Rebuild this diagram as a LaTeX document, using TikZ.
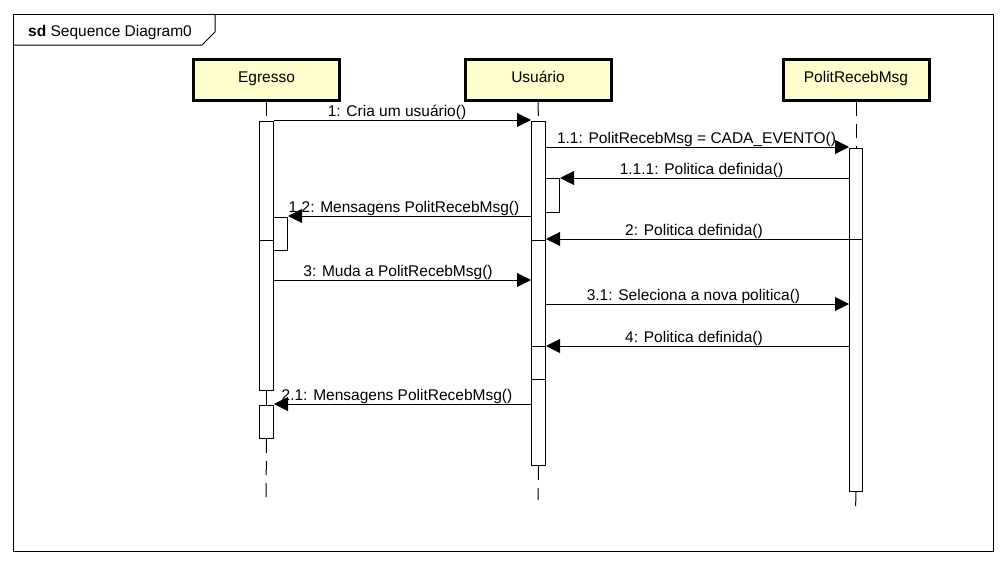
\documentclass[tikz,border=0pt]{standalone}
\usepackage{fontspec}
\setmainfont{Liberation Sans}
\usetikzlibrary{arrows.meta}
\definecolor{headfill}{RGB}{255,255,206}
\begin{document}
\begin{tikzpicture}[x=1pt,y=-1pt,
  every node/.style={font=\fontsize{15.5}{18}\selectfont, inner sep=0pt},
  head/.style={draw=black, line width=3pt, fill=headfill, minimum width=146pt, minimum height=41pt, text height=11pt, text depth=7pt},
  actbar/.style={draw=black, line width=1pt, fill=white, anchor=north west},
  life/.style={line width=1pt, dash pattern=on 14pt off 8pt},
  msg/.style={line width=1pt, -{Triangle[length=14pt,width=14pt]}},
  lbl/.style={anchor=base}
]
\useasboundingbox (0,0) rectangle (1006,565);
% frame
\draw[line width=1pt] (13,14) rectangle (993,551);
\draw[line width=1pt] (13,45) -- (202,45) -- (215,32) -- (215,14);
\node[anchor=base west] (title) at (28,36) {\textbf{sd} Sequence Diagram0};

% heads
\node[head] (egr) at (266.5,80) {Egresso};
\node[head] (usu) at (538,80) {Usuário};
\node[head] (pol) at (856,80) {PolitRecebMsg};

% activation bars
\node[actbar, minimum width=14pt, minimum height=119pt] (ea) at (259,121) {};
\node[actbar, minimum width=14pt, minimum height=150pt] (eb) at (259,240) {};
\node[actbar, minimum width=14pt, minimum height=33pt] (ec) at (273,217) {};
\node[actbar, minimum width=14pt, minimum height=33pt] (ed) at (259,405) {};

\node[actbar, minimum width=14pt, minimum height=119pt] (ua) at (531,121) {};
\node[actbar, minimum width=14pt, minimum height=106pt] (ub) at (531,240) {};
\node[actbar, minimum width=14pt, minimum height=33pt] (uc) at (531,346) {};
\node[actbar, minimum width=14pt, minimum height=86pt] (ud) at (531,379) {};
\node[actbar, minimum width=14pt, minimum height=34pt] (ue) at (545,178) {};

\node[actbar, minimum width=13pt, minimum height=91pt] (pa) at (849,148) {};
\node[actbar, minimum width=13pt, minimum height=252pt] (pb) at (849,239) {};

% lifelines
\coordinate (eend) at (266,500);
\coordinate (uend) at (538,500);
\coordinate (pend) at (855.5,511);
\draw[life] (egr.south) -- (ea.north);
\draw[line width=1pt] (eb.south) -- (ed.north);
\draw[life] (ed.south) -- (eend);
\draw[life] (usu.south) -- (ua.north);
\draw[life] (ud.south) -- (uend);
\draw[life] (pol.south) -- (pa.north);
\draw[life] (pb.south) -- (pend);

% messages
\draw[msg] (ea.east |- 0,120) -- (ua.west |- 0,120);
\node[lbl] (l1) at (397,116.5) {1: Cria um usuário()};

\draw[msg] (ua.east |- 0,147) -- (pa.west |- 0,147);
\node[lbl] (l11) at (696.5,143.5) {1.1: PolitRecebMsg = CADA\_EVENTO()};

\draw[msg] (pa.west |- 0,178) -- (ue.east |- 0,178);
\node[lbl] (l111) at (701.5,174.5) {1.1.1: Politica definida()};

\draw[msg] (ua.west |- 0,216) -- (ec.east |- 0,216);
\node[lbl] (l12) at (404,212.5) {1.2: Mensagens PolitRecebMsg()};

\draw[msg] (pa.west |- 0,239) -- (ua.east |- 0,239);
\node[lbl] (l2) at (694,235.5) {2: Politica definida()};

\draw[msg] (eb.east |- 0,280) -- (ub.west |- 0,280);
\node[lbl] (l3) at (398,276.5) {3: Muda a PolitRecebMsg()};

\draw[msg] (ub.east |- 0,304) -- (pb.west |- 0,304);
\node[lbl] (l31) at (693.5,300.5) {3.1: Seleciona a nova politica()};

\draw[msg] (pb.west |- 0,346) -- (ub.east |- 0,346);
\node[lbl] (l4) at (694,342.5) {4: Politica definida()};

\draw[msg] (ud.west |- 0,404) -- (ed.east |- 0,404);
\node[lbl] (l21) at (397,400.5) {2.1: Mensagens PolitRecebMsg()};
\end{tikzpicture}
\end{document}
